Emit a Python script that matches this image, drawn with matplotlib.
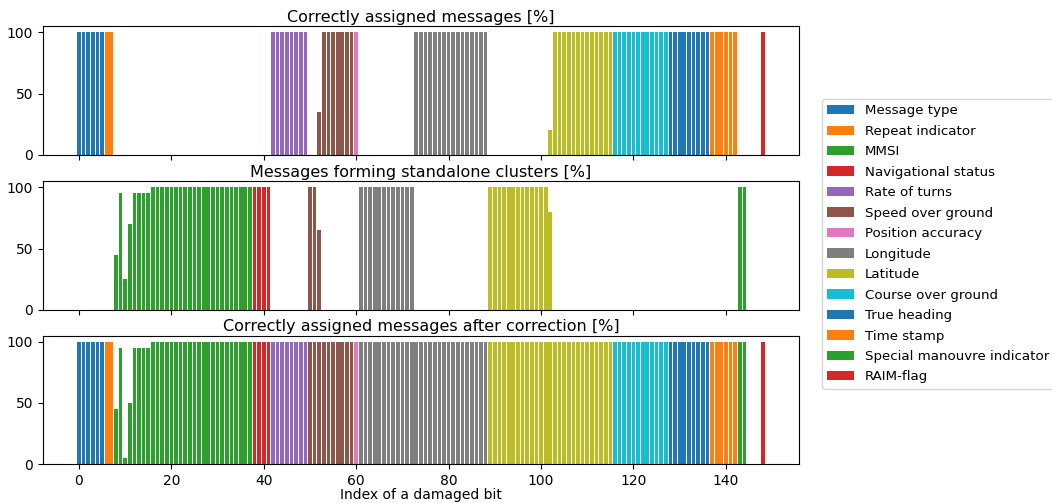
import matplotlib
matplotlib.use("Agg")
import matplotlib.pyplot as plt

# AIS position report fields, first bit of each field
field_names = [
    "Message type", "Repeat indicator", "MMSI", "Navigational status",
    "Rate of turns", "Speed over ground", "Position accuracy", "Longitude",
    "Latitude", "Course over ground", "True heading", "Time stamp",
    "Special manouvre indicator", "RAIM-flag",
]
field_first_bit = [0, 6, 8, 38, 42, 50, 60, 61, 89, 116, 128, 137, 143, 148]

# Percentage per damaged bit, grouped by field
assigned_pct = [
    [100, 100, 100, 100, 100, 100],
    [100, 100],
    [0, 0, 0, 0, 0, 0, 0, 0, 0, 0, 0, 0, 0, 0, 0, 0, 0, 0, 0, 0, 0, 0, 0, 0, 0, 0, 0, 0, 0, 0],
    [0, 0, 0, 0],
    [100, 100, 100, 100, 100, 100, 100, 100],
    [0, 0, 35, 100, 100, 100, 100, 100, 100, 100],
    [100],
    [0, 0, 0, 0, 0, 0, 0, 0, 0, 0, 0, 0, 100, 100, 100, 100, 100, 100, 100, 100, 100, 100, 100, 100, 100, 100, 100, 100],
    [0, 0, 0, 0, 0, 0, 0, 0, 0, 0, 0, 0, 0, 20, 100, 100, 100, 100, 100, 100, 100, 100, 100, 100, 100, 100, 100],
    [100, 100, 100, 100, 100, 100, 100, 100, 100, 100, 100, 100],
    [100, 100, 100, 100, 100, 100, 100, 100, 100],
    [100, 100, 100, 100, 100, 100],
    [0, 0],
    [100],
]

standalone_pct = [
    [0, 0, 0, 0, 0, 0],
    [0, 0],
    [45, 95, 25, 70, 95, 95, 95, 95, 100, 100, 100, 100, 100, 100, 100, 100, 100, 100, 100, 100, 100, 100, 100, 100, 100, 100, 100, 100, 100, 100],
    [100, 100, 100, 100],
    [0, 0, 0, 0, 0, 0, 0, 0],
    [100, 100, 65, 0, 0, 0, 0, 0, 0, 0],
    [0],
    [100, 100, 100, 100, 100, 100, 100, 100, 100, 100, 100, 100, 0, 0, 0, 0, 0, 0, 0, 0, 0, 0, 0, 0, 0, 0, 0, 0],
    [100, 100, 100, 100, 100, 100, 100, 100, 100, 100, 100, 100, 100, 80, 0, 0, 0, 0, 0, 0, 0, 0, 0, 0, 0, 0, 0],
    [0, 0, 0, 0, 0, 0, 0, 0, 0, 0, 0, 0],
    [0, 0, 0, 0, 0, 0, 0, 0, 0],
    [0, 0, 0, 0, 0, 0],
    [100, 100],
    [0],
]

corrected_pct = [
    [100, 100, 100, 100, 100, 100],
    [100, 100],
    [45, 95, 5, 50, 95, 95, 95, 95, 100, 100, 100, 100, 100, 100, 100, 100, 100, 100, 100, 100, 100, 100, 100, 100, 100, 100, 100, 100, 100, 100],
    [100, 100, 100, 100],
    [100, 100, 100, 100, 100, 100, 100, 100],
    [100, 100, 100, 100, 100, 100, 100, 100, 100, 100],
    [100],
    [100, 100, 100, 100, 100, 100, 100, 100, 100, 100, 100, 100, 100, 100, 100, 100, 100, 100, 100, 100, 100, 100, 100, 100, 100, 100, 100, 100],
    [100, 100, 100, 100, 100, 100, 100, 100, 100, 100, 100, 100, 100, 100, 100, 100, 100, 100, 100, 100, 100, 100, 100, 100, 100, 100, 100],
    [100, 100, 100, 100, 100, 100, 100, 100, 100, 100, 100, 100],
    [100, 100, 100, 100, 100, 100, 100, 100, 100],
    [100, 100, 100, 100, 100, 100],
    [100, 100],
    [100],
]

panel_titles = [
    "Correctly assigned messages [%]",
    "Messages forming standalone clusters [%]",
    "Correctly assigned messages after correction [%]",
]
panel_data = [assigned_pct, standalone_pct, corrected_pct]

fig = plt.figure(figsize=(10.52, 5.03), dpi=100)
left, width = 0.0406, 0.719
bottoms = [0.692, 0.384, 0.077]
height = 0.256

axes = []
for k, (title, data) in enumerate(zip(panel_titles, panel_data)):
    ax = fig.add_axes([left, bottoms[k], width, height],
                      sharex=axes[0] if axes else None)
    for i, (name, start, vals) in enumerate(zip(field_names, field_first_bit, data)):
        bits = list(range(start, start + len(vals)))
        ax.bar(bits, vals, width=0.8, color=f"C{i % 10}", label=name)
    ax.set_title(title, fontsize=11.5, pad=3)
    ax.set_yticks([0, 50, 100])
    ax.set_xticks([0, 20, 40, 60, 80, 100, 120, 140])
    ax.tick_params(labelsize=10)
    if k < 2:
        ax.tick_params(labelbottom=False)
    axes.append(ax)

axes[-1].set_xlabel("Index of a damaged bit", fontsize=10, labelpad=0)

handles, labels = axes[0].get_legend_handles_labels()
fig.legend(handles, labels, loc="center left", bbox_to_anchor=(0.775, 0.515),
           fontsize=9.6, labelspacing=0.56)

fig.savefig("out.png", dpi=100)
